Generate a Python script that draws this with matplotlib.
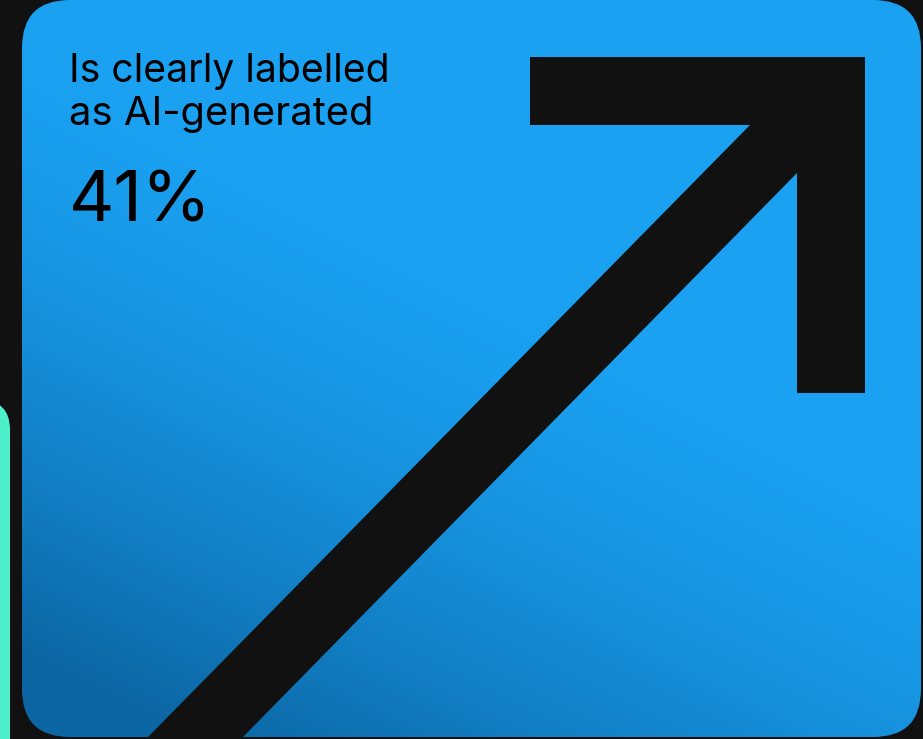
import numpy as np
import matplotlib
matplotlib.use("Agg")
import matplotlib.pyplot as plt
from matplotlib.patches import FancyBboxPatch, Polygon
from matplotlib.colors import to_rgb

# Content
label_lines = ["Is clearly labelled", "as AI-generated"]
value_pct = 41

W, H = 923, 739
BG = "#111111"
CARD_TOP = "#1aa1f2"
CARD_DARK = "#0c66a3"
GREEN = "#4df0cb"

fig = plt.figure(figsize=(W / 100, H / 100), dpi=100, facecolor=BG)
ax = fig.add_axes([0, 0, 1, 1])
ax.set_xlim(0, W)
ax.set_ylim(H, 0)
ax.axis("off")
ax.set_facecolor(BG)

# Neighbouring green card edge
green = FancyBboxPatch((-60, 400), 70, 500, boxstyle="round,pad=0,rounding_size=30",
                       facecolor=GREEN, edgecolor="none", zorder=1)
ax.add_patch(green)

# Blue card with gradient
card = FancyBboxPatch((22, 0), 899, 737, boxstyle="round,pad=0,rounding_size=48",
                      facecolor="none", edgecolor="none", zorder=2)
ax.add_patch(card)
yy, xx = np.mgrid[0:H, 0:W]
d = np.array([-0.5, 1.0])
d = d / np.linalg.norm(d)
p0 = np.array([650, 360])
t = ((xx - p0[0]) * d[0] + (yy - p0[1]) * d[1]) / 540.0
t = np.clip(t, 0, 1) ** 1.5
c1 = np.array(to_rgb(CARD_TOP))
c2 = np.array(to_rgb(CARD_DARK))
img = c1[None, None, :] * (1 - t[..., None]) + c2[None, None, :] * t[..., None]
im = ax.imshow(img, extent=(0, W, H, 0), zorder=3, interpolation="bilinear")
im.set_clip_path(card)

# Arrow
arrow_pts = [(530, 57), (865, 57), (865, 393), (797, 393), (797, 173),
             (243 - 60, 737 + 61), (148 - 60, 737 + 61), (750, 125), (530, 125)]
arrow = Polygon(arrow_pts, closed=True, facecolor=BG, edgecolor="none", zorder=4)
ax.add_patch(arrow)
arrow.set_clip_path(card)

font = ["Inter", "DejaVu Sans"]
renderer = fig.canvas.get_renderer()

def fit_text(x, y, s, target_w, size0, **kw):
    t_ = ax.text(x, y, s, fontsize=size0, family=font, color="black",
                 va="baseline", ha="left", zorder=5, **kw)
    bb = t_.get_window_extent(renderer=renderer)
    t_.set_fontsize(size0 * target_w / bb.width)
    return t_

fit_text(69, 82, label_lines[0], 321, 24)
fit_text(69, 125, label_lines[1], 305, 24)
fit_text(69, 222, f"{value_pct}%", 143, 60)

fig.savefig("out.png", dpi=100, facecolor=BG)
